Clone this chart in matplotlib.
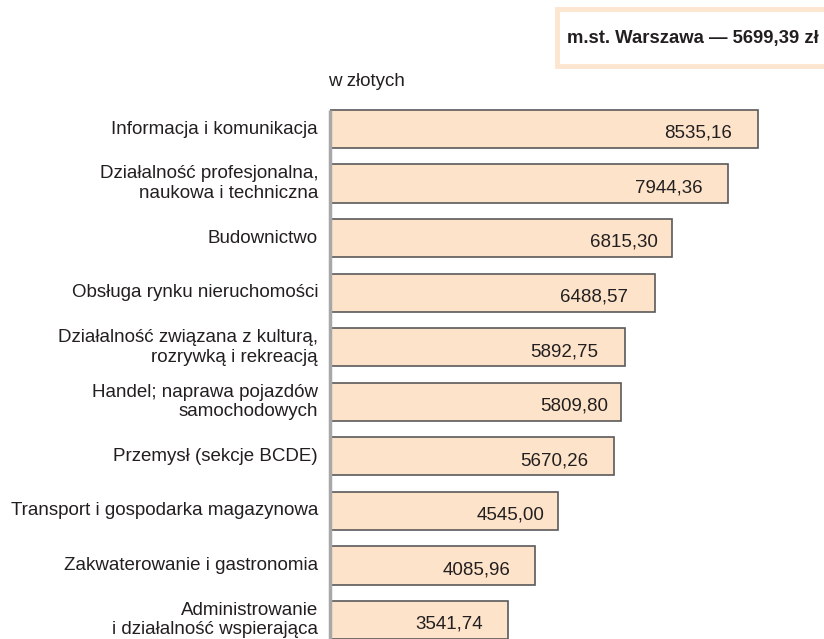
import matplotlib
matplotlib.use("Agg")
import matplotlib.pyplot as plt
from matplotlib.patches import Rectangle

categories = [
    "Informacja i komunikacja",
    "Działalność profesjonalna,\nnaukowa i techniczna",
    "Budownictwo",
    "Obsługa rynku nieruchomości",
    "Działalność związana z kulturą,\nrozrywką i rekreacją",
    "Handel; naprawa pojazdów\nsamochodowych",
    "Przemysł (sekcje BCDE)",
    "Transport i gospodarka magazynowa",
    "Zakwaterowanie i gastronomia",
    "Administrowanie\ni działalność wspierająca",
]
values = [8535.16, 7944.36, 6815.30, 6488.57, 5892.75, 5809.80, 5670.26, 4545.00, 4085.96, 3541.74]
value_labels = ["8535,16", "7944,36", "6815,30", "6488,57", "5892,75", "5809,80", "5670,26", "4545,00", "4085,96", "3541,74"]
header_text = "m.st. Warszawa — 5699,39 zł"
unit_text = "w złotych"

# style: right padding (px) of value labels inside bars
label_pad_px = [26, 26, 14, 27, 27, 13, 26, 13, 24, 25]

plt.rcParams['font.family'] = ['Liberation Sans', 'DejaVu Sans']
FS = 13.5

W, H = 824, 639
fig = plt.figure(figsize=(W / 100, H / 100), dpi=100)

pitch = 54.56
ax_left = 330
ax_right = W
scale = 428 / 8535.16  # px per unit
xmax = (ax_right - ax_left) / scale
top_px = 129 - pitch / 2
bottom_px = H
ax = fig.add_axes([ax_left / W, 1 - bottom_px / H, (ax_right - ax_left) / W, (bottom_px - top_px) / H])
n_rows = (bottom_px - top_px) / pitch
ax.set_xlim(0, xmax)
ax.set_ylim(-0.5 + n_rows, -0.5)

ys = list(range(len(values)))
ax.barh(ys, values, height=0.70, color="#fde3c9", edgecolor="#5a5a5a", linewidth=1.2, zorder=2)

for y, v, lab, pad in zip(ys, values, value_labels, label_pad_px):
    ax.text(v - pad / scale, y + 0.08, lab, ha="right", va="center", fontsize=FS, color="#231f20", zorder=3)

for y, c in zip(ys, categories):
    ax.text(-12 / scale, y, c, ha="right", va="center", fontsize=FS, color="#231f20",
            linespacing=1.2, clip_on=False)

for s in ["top", "right", "bottom", "left"]:
    ax.spines[s].set_visible(False)
ax.set_xticks([])
ax.set_yticks([])
ax.plot([0, 0], [-0.5 + (110 - top_px) / pitch, n_rows], color="#a8a8a8", lw=2.5, zorder=4,
        solid_capstyle="butt", clip_on=False)

fig.text(328 / W, 1 - 81 / H, unit_text, ha="left", va="center", fontsize=FS, color="#231f20")

box = Rectangle((557 / W, 1 - 66 / H), (W + 40 - 557) / W, (66 - 9) / H, transform=fig.transFigure,
                facecolor="white", edgecolor="#fde6d0", linewidth=3.5, clip_on=False)
fig.patches.append(box)
fig.text(567 / W, 1 - 38 / H, header_text, ha="left", va="center", fontsize=13.3,
         fontweight="bold", color="#231f20")

fig.savefig("out.png", dpi=100)
